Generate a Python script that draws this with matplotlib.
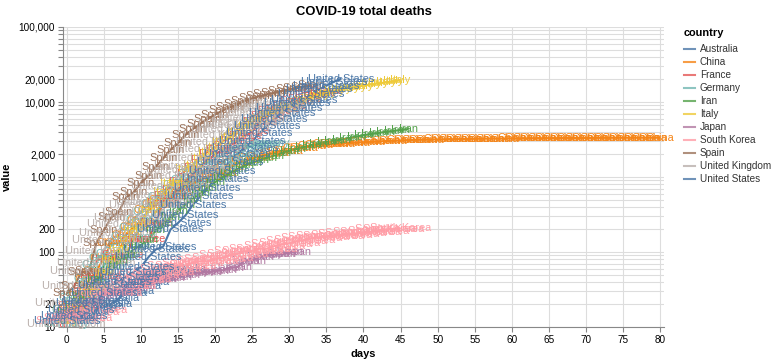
import matplotlib
matplotlib.use("Agg")
import matplotlib.pyplot as plt
from matplotlib.lines import Line2D
from matplotlib.ticker import LogLocator, FuncFormatter, MultipleLocator

plt.rcParams['font.family'] = ['Liberation Sans', 'DejaVu Sans']

countries = ['Australia', 'China', 'France', 'Germany', 'Iran', 'Italy', 'Japan',
             'South Korea', 'Spain', 'United Kingdom', 'United States']
colors = ['#4c78a8', '#f58518', '#e45756', '#72b7b2', '#54a24b', '#eeca3b',
          '#b279a2', '#ff9da6', '#9d755d', '#bab0ac', '#4c78a8']

# total deaths per day, day 0 = first day shown for each country
australia = [13, 13, 14, 16, 18, 19, 20, 24, 28, 30, 35, 40, 45, 50, 51, 57, 60]
china = [17, 18, 26, 42, 56, 82, 131, 133, 171, 213,
         259, 361, 425, 491, 563, 633, 718, 805, 905, 1012,
         1112, 1117, 1369, 1521, 1663, 1766, 1864, 2003, 2116, 2238,
         2238, 2443, 2445, 2595, 2665, 2717, 2746, 2790, 2837,
         2872, 2914, 2947, 2983, 3015, 3044, 3072, 3100, 3123, 3139,
         3161, 3172, 3180, 3193, 3203, 3217, 3230, 3241, 3249, 3253,
         3259, 3274, 3274, 3281, 3285, 3291, 3296, 3299, 3304, 3308, 3309,
         3316, 3322, 3326, 3330, 3333, 3335, 3335, 3337, 3339, 3340, 3343]
france = [11, 19, 19, 33, 48, 48, 79, 91, 91, 149,
          149, 149, 244, 451, 563, 676, 862, 1102, 1333, 1698,
          1997, 2317, 2611, 3030, 3532, 4043, 5398, 6520, 7574, 8093,
          8926, 10343, 10887, 12228, 13215, 13851]
germany = [11, 17, 24, 28, 44, 67, 84, 94, 123, 157, 206, 267, 342, 433,
           533, 645, 775, 920, 1107, 1275, 1444, 1584, 1810, 2016, 2349,
           2607, 2767, 2871]
iran = [16, 19, 26, 34, 43,
        54, 66, 77, 92, 107, 124, 145, 194, 237, 291,
        354, 429, 514, 611, 724, 853, 988, 1135, 1284, 1433,
        1556, 1685, 1812, 1934, 2077, 2234, 2378, 2517, 2640, 2757, 2898,
        3036, 3160, 3294, 3452, 3603, 3739, 3872, 3993, 4110, 4232, 4357]
italy = [12, 17, 21, 29,
         34, 52, 79, 107, 148, 197, 233, 366, 463, 631,
         827, 827, 1266, 1441, 1809, 2158, 2503, 2978, 3405, 4032,
         4825, 5476, 6077, 6820, 7503, 8215, 9134, 10023, 10779, 11591, 12428,
         13155, 13915, 14681, 15362, 15887, 16523, 17127, 17669, 18279, 18849, 19468]
japan = [15, 16, 19, 22, 22, 27, 29, 29, 29, 33, 35, 41, 42, 43, 45, 47,
         49, 52, 54, 54, 56,
         57, 62, 63, 77, 77, 85, 92, 93, 94, 99, 99]
south_korea = [12, 13, 13, 16,
               17, 28, 28, 35, 35, 42, 44, 50, 53, 54,
               60, 66, 66, 72, 75, 75, 81, 84, 91, 94,
               102, 104, 111, 111, 120, 126, 131, 139, 144, 152, 158,
               162, 165, 169, 174, 177, 183, 186, 192, 200, 204, 208]
spain = [28, 35, 54, 55, 133, 195, 289, 342, 533, 623, 830, 1043, 1375, 1772,
         2311, 2808, 3647, 4365, 5138, 5982, 6803, 7716, 8464,
         9387, 10348, 11198, 11947, 12641, 13341, 14045, 14792, 15447, 16081, 16606]
united_kingdom = [11, 21, 35, 55, 71, 104, 144, 177, 233, 281, 335, 422, 465,
                  578, 759, 1019, 1228, 1408, 1789,
                  2352, 2921, 3605, 4313, 4934, 5373, 6159, 7097, 7978, 8958, 9875]
united_states = [12, 14, 17, 21, 22, 28, 36, 40, 47, 54, 63, 85, 108, 118, 200,
                 244, 307, 427, 552, 706, 942, 1209, 1581, 2026, 2467, 2978, 3873,
                 4757, 5926, 7087, 8407, 9619, 10783, 12722, 14695, 16478, 18586, 20463]

series = [australia, china, france, germany, iran, italy, japan,
          south_korea, spain, united_kingdom, united_states]

W, H = 777, 364
fig = plt.figure(figsize=(W / 100, H / 100), dpi=100)
ax = fig.add_axes([63 / W, 1 - 327 / H, 601 / W, 300 / H])

# lines first, the labels go on top of them
for name, col, vals in zip(countries, colors, series):
    ax.plot(range(len(vals)), vals, color=col, lw=1.5, zorder=3,
            solid_capstyle='butt', clip_on=False)
for name, col, vals in zip(countries, colors, series):
    for d, v in enumerate(vals):
        ax.text(d, v, name, color=col, fontsize=7.9, ha='center', va='center',
                clip_on=False, zorder=4)

ax.set_yscale('log')
ax.set_xlim(-0.5, 80.5)
ax.set_ylim(10, 100000)

ax.yaxis.set_major_locator(LogLocator(base=10, subs=range(1, 10), numticks=100))
ax.yaxis.set_minor_locator(plt.NullLocator())


def fmt(v, pos):
    s = f'{v:.0f}'
    if s[0] in '12':
        return f'{int(round(v)):,}'
    return ''


ax.yaxis.set_major_formatter(FuncFormatter(fmt))
ax.xaxis.set_major_locator(MultipleLocator(5))

ax.grid(True, color='#dddddd', lw=0.8)
ax.set_axisbelow(True)
for s in ['top', 'right']:
    ax.spines[s].set_visible(False)
for s in ['left', 'bottom']:
    ax.spines[s].set_color('#888888')
    ax.spines[s].set_linewidth(0.8)
ax.tick_params(colors='#888888', length=3.6, width=0.8, labelsize=7.2,
               labelcolor='#000000', pad=2)

ax.set_xlabel('days', fontsize=7.9, fontweight='bold', labelpad=3)
ax.set_ylabel('value', fontsize=7.9, fontweight='bold', labelpad=5)
fig.text(363.5 / W, 1 - 12 / H, 'COVID-19 total deaths', fontsize=9.4,
         fontweight='bold', ha='center', va='center')

# legend
fig.text(684 / W, 1 - 33 / H, 'country', fontsize=7.9, fontweight='bold',
         ha='left', va='center')
for i, (name, col) in enumerate(zip(countries, colors)):
    y = 1 - (49 + 13 * i) / H
    fig.add_artist(Line2D([684 / W, 695 / W], [y, y], color=col, lw=1.5, alpha=0.8))
    fig.text(700 / W, y, name, fontsize=7.2, ha='left', va='center', color='#333333')

fig.savefig('out.png', dpi=100)
